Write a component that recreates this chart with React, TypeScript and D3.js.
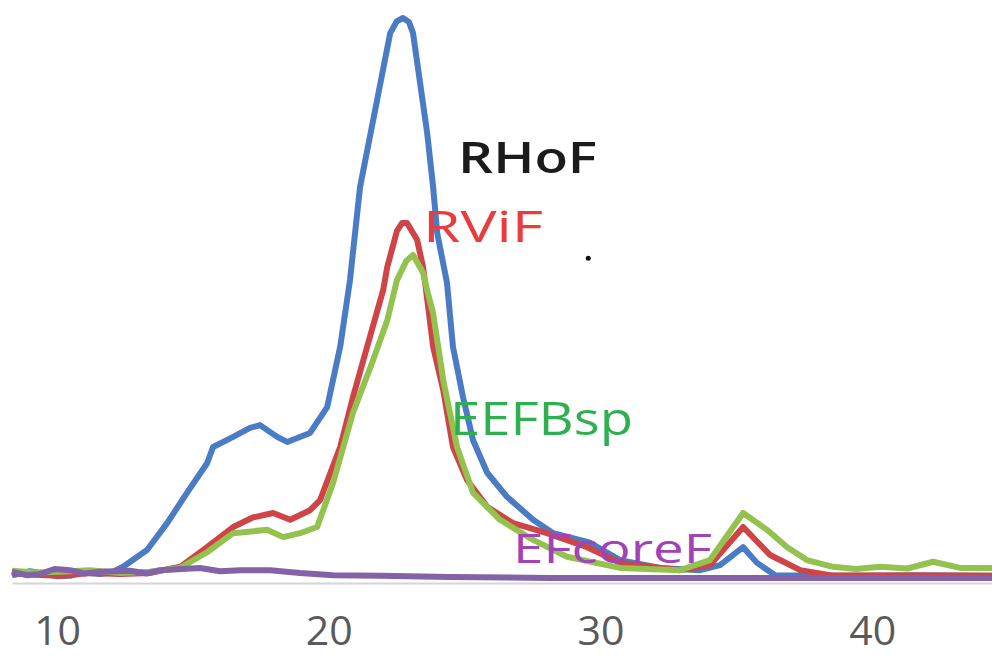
import React, { useEffect, useRef } from 'react';
import * as d3 from 'd3';

// elution volume vs. signal
const xTicks = [10, 20, 30, 40];

const rhof: [number, number][] = [
  [8.34, 0.5], [9.0, 1.2], [9.37, 0.9], [10.0, 0.3], [10.48, 0.4], [11.0, 1.0], [11.58, 0.7],
  [12.0, 1.0], [12.43, 2.0], [13.31, 5.0], [14.05, 9.8], [14.78, 15.2], [15.52, 20.5],
  [15.74, 23.4], [16.48, 25.2], [17.1, 26.8], [17.47, 27.3], [18.1, 25.2], [18.47, 24.3],
  [19.31, 25.9], [19.94, 30.5], [20.42, 41.3], [20.78, 53.2], [21.15, 69.8], [21.78, 85.4],
  [22.26, 97.3], [22.5, 99.4], [22.73, 100], [22.95, 99.3], [23.1, 97.3], [23.36, 88.4],
  [23.62, 79.5], [23.84, 69.8], [23.99, 61.6], [24.35, 52.7], [24.57, 41.3], [24.94, 32.3],
  [25.31, 24.6], [25.83, 18.8], [26.56, 14.5], [27.52, 10.4], [28.26, 8.0], [29.62, 6.3],
  [30.72, 3.2], [32.19, 1.8], [33.67, 1.4], [34.4, 2.3], [35.25, 5.5], [35.76, 2.7],
  [36.43, 0.5], [39.19, 0.4], [41.76, 0.5], [44.41, 0.4]
];

const rvif: [number, number][] = [
  [8.34, 0.9], [9.2, 0.6], [10.11, 0.4], [11.2, 0.9], [12.32, 0.7], [13.4, 0.9], [14.53, 2.0],
  [15.52, 5.5], [16.48, 9.1], [17.2, 10.8], [17.95, 11.6], [18.58, 10.4], [19.31, 12.1],
  [19.68, 13.9], [20.42, 23.4], [20.89, 32.3], [21.41, 41.3], [22.0, 51.4], [22.15, 55.5],
  [22.51, 62.0], [22.7, 63.4], [22.88, 63.4], [23.25, 60.4], [23.47, 55.5], [23.58, 51.4],
  [23.84, 41.3], [24.21, 33.6], [24.57, 23.4], [25.09, 17.5], [25.83, 12.7], [26.78, 9.8],
  [28.03, 8.0], [29.51, 5.5], [30.72, 2.7], [32.93, 1.4], [34.03, 2.3], [35.25, 9.1],
  [36.24, 4.1], [37.35, 1.4], [38.45, 0.5], [44.41, 0.4]
];

const eefbsp: [number, number][] = [
  [8.34, 1.3], [9.2, 1.0], [10.11, 1.1], [11.2, 1.4], [12.32, 0.9], [13.4, 1.1], [14.53, 1.8],
  [15.52, 4.6], [16.48, 8.0], [17.73, 8.6], [18.32, 7.3], [18.94, 8.0], [19.57, 9.1],
  [20.16, 17.0], [20.89, 29.5], [21.6, 38.5], [22.15, 46.0], [22.51, 53.2], [22.85, 56.6],
  [23.1, 57.7], [23.47, 54.5], [23.62, 51.4], [23.84, 47.3], [24.21, 35.4], [24.72, 23.4],
  [25.31, 15.2], [26.3, 10.4], [27.52, 6.8], [28.77, 3.8], [30.72, 1.8], [32.93, 1.4],
  [34.03, 3.2], [35.25, 11.6], [36.13, 8.6], [36.87, 5.5], [37.6, 3.2], [38.56, 2.0],
  [39.4, 1.6], [40.29, 2.0], [41.3, 1.7], [42.24, 2.9], [43.24, 1.8], [44.41, 1.8]
];

const efcoref: [number, number][] = [
  [8.34, 1.1], [8.9, 0.5], [9.37, 0.7], [9.9, 1.6], [10.48, 1.4], [11.0, 0.8], [11.58, 1.1],
  [12.69, 1.3], [13.3, 0.8], [13.79, 1.4], [15.26, 1.8], [16.0, 1.2], [16.74, 1.4],
  [17.84, 1.4], [18.94, 0.9], [20.16, 0.5], [21.89, 0.4], [24.46, 0.2], [28.14, 0],
  [33.67, 0], [39.19, 0], [44.41, 0]
];

const seriesNames = ['RHoF', 'RViF', 'EEFBsp', 'EFcoreF'];
const seriesData = [rhof, rvif, eefbsp, efcoref];
const lineColors = ['#4a7cc5', '#cf4446', '#93c24f', '#8462a8'];

function App() {
  const svgRef = useRef<SVGSVGElement>(null);

  useEffect(() => {
    const width = 992;
    const height = 658;
    const svg = d3.select(svgRef.current)
      .attr('width', width)
      .attr('height', height);

    svg.selectAll('*').remove();

    const x = d3.scaleLinear().domain([8.34, 44.41]).range([12, 992]);
    const y = d3.scaleLinear().domain([0, 100]).range([578, 18]);

    // axis: thin grey line with big grey numbers under it
    const axis = svg.append('g')
      .attr('transform', `translate(0,${y(0) + 5})`)
      .call(d3.axisBottom(x).tickValues(xTicks).tickSize(0).tickPadding(33).tickFormat(d3.format('d')));
    axis.select('.domain').attr('stroke', '#d6d6d6').attr('stroke-width', 2);
    axis.selectAll('text')
      .attr('fill', '#5a5a5a')
      .attr('font-family', '"Open Sans", sans-serif')
      .attr('font-size', '41px');

    const line = d3.line<[number, number]>()
      .x(d => x(d[0]))
      .y(d => y(d[1]))
      .curve(d3.curveLinear);

    seriesData.forEach((data, i) => {
      svg.append('path')
        .datum(data)
        .attr('fill', 'none')
        .attr('stroke', lineColors[i])
        .attr('stroke-width', 6)
        .attr('stroke-linejoin', 'round')
        .attr('d', line);
    });

    // in-plot series labels (x = where the word starts)
    const labels = [
      { name: seriesNames[0], x: 24.76, y: 72.3, len: 139, size: 43, color: '#1b1b1b', weight: 600 },
      { name: seriesNames[1], x: 23.47, y: 60.0, len: 120, size: 44, color: '#e83c3e', weight: 400 },
      { name: seriesNames[2], x: 24.46, y: 25.5, len: 183, size: 46, color: '#2fb050', weight: 400 },
      { name: seriesNames[3], x: 26.78, y: 2.7, len: 199, size: 40, color: '#a243b5', weight: 400 }
    ];
    svg.selectAll('.lbl')
      .data(labels)
      .enter()
      .append('text')
      .attr('class', 'lbl')
      .attr('x', d => x(d.x))
      .attr('y', d => y(d.y))
      .attr('font-family', '"Open Sans", sans-serif')
      .attr('font-size', d => d.size + 'px')
      .attr('font-weight', d => d.weight)
      .attr('fill', d => d.color)
      .attr('textLength', d => d.len)
      .attr('lengthAdjust', 'spacingAndGlyphs')
      .text(d => d.name);

    // stray dot beside the labels
    svg.append('circle')
      .attr('cx', x(29.55))
      .attr('cy', y(57.1))
      .attr('r', 2.5)
      .attr('fill', '#111');
  }, []);

  return (
    <svg ref={svgRef} style={{ position: 'absolute', left: 0, top: 0, background: '#fff' }}></svg>
  );
}

export default App;
